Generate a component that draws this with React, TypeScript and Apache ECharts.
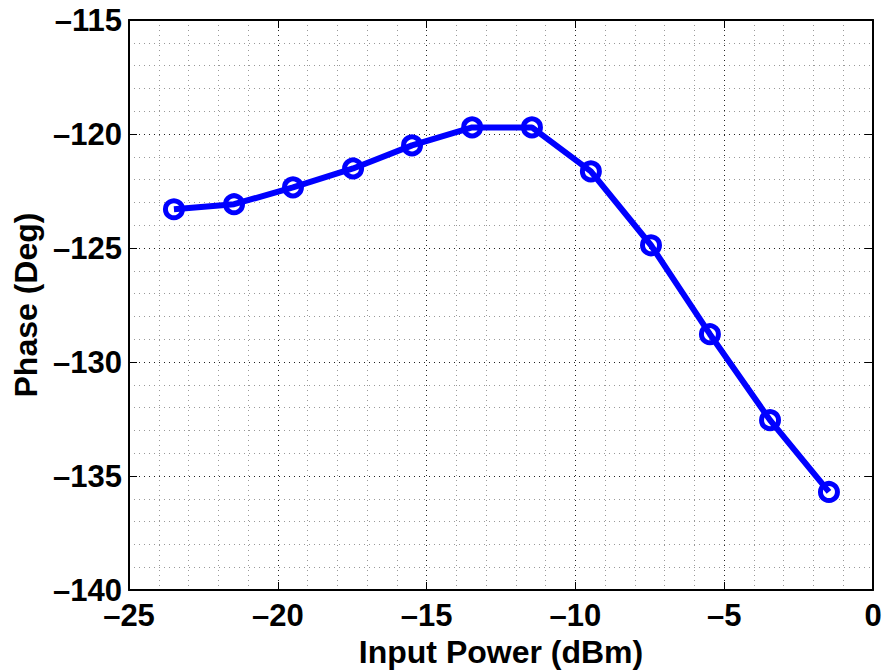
import React, { useEffect, useRef } from "react";
import * as echarts from "echarts";

const inputPower: number[] = [-23.49, -21.47, -19.49, -17.47, -15.49, -13.47, -11.46, -9.48, -7.46, -5.48, -3.46, -1.48];
const phase: number[] = [-123.3, -123.08, -122.34, -121.51, -120.5, -119.71, -119.71, -121.64, -124.88, -128.78, -132.55, -135.7];
const xRange = { min: -25, max: 0, interval: 5 };
const yRange = { min: -140, max: -115, interval: 5 };

const FONT = "'Liberation Sans', Arial, Helvetica, sans-serif";

export default function App() {
  const ref = useRef<HTMLDivElement>(null);
  useEffect(() => {
    if (!ref.current) return;
    const chart = echarts.init(ref.current, undefined, { renderer: "svg" });
    const fmt = (v: number) => (v < 0 ? "\u2013" + Math.abs(v) : String(v));
    const tickCommon = { show: true, inside: true, length: 8, lineStyle: { color: "#000", width: 1 } };
    const lineCommon = { show: true, onZero: false, lineStyle: { color: "#000", width: 2 } };
    const labelCommon = { color: "#000", fontFamily: FONT, fontWeight: "bold" as const, fontSize: 31 };
    chart.setOption({
      animation: false,
      backgroundColor: "#fff",
      grid: { left: 129, top: 20, right: 10, bottom: 81, containLabel: false, outerBoundsMode: "none" },
      xAxis: [
        {
          type: "value",
          ...xRange,
          name: "Input Power (dBm)",
          nameLocation: "middle",
          nameGap: 34,
          nameTextStyle: { ...labelCommon, fontSize: 32 },
          axisLine: lineCommon,
          axisTick: tickCommon,
          axisLabel: { ...labelCommon, margin: 10, formatter: fmt },
          splitLine: { show: true, lineStyle: { color: "#222", type: [1, 4], width: 1 } },
          minorTick: { show: false, splitNumber: 5 },
          minorSplitLine: { show: true, lineStyle: { color: "#999", type: [1, 4], width: 1 } },
        },
        {
          type: "value",
          ...xRange,
          position: "top",
          axisLine: lineCommon,
          axisTick: tickCommon,
          axisLabel: { show: false },
          splitLine: { show: false },
        },
      ],
      yAxis: [
        {
          type: "value",
          ...yRange,
          name: "Phase (Deg)",
          nameLocation: "middle",
          nameGap: 86,
          nameRotate: 90,
          nameTextStyle: { ...labelCommon, fontSize: 32 },
          axisLine: lineCommon,
          axisTick: tickCommon,
          axisLabel: { ...labelCommon, margin: 7, formatter: fmt },
          splitLine: { show: true, lineStyle: { color: "#222", type: [1, 4], width: 1 } },
          minorTick: { show: false, splitNumber: 5 },
          minorSplitLine: { show: true, lineStyle: { color: "#999", type: [1, 4], width: 1 } },
        },
        {
          type: "value",
          ...yRange,
          position: "right",
          axisLine: lineCommon,
          axisTick: tickCommon,
          axisLabel: { show: false },
          splitLine: { show: false },
        },
      ],
      series: [
        {
          type: "line",
          data: inputPower.map((x, i) => [x, phase[i]]),
          lineStyle: { color: "#0000ff", width: 6 },
          symbol: "circle",
          symbolSize: 17,
          showAllSymbol: true,
          itemStyle: { color: "rgba(0,0,0,0)", borderColor: "#0000ff", borderWidth: 5 },
          z: 5,
        },
      ],
    });
    return () => chart.dispose();
  }, []);
  return <div ref={ref} style={{ position: "absolute", left: 0, top: 0, width: 883, height: 671 }} />;
}
